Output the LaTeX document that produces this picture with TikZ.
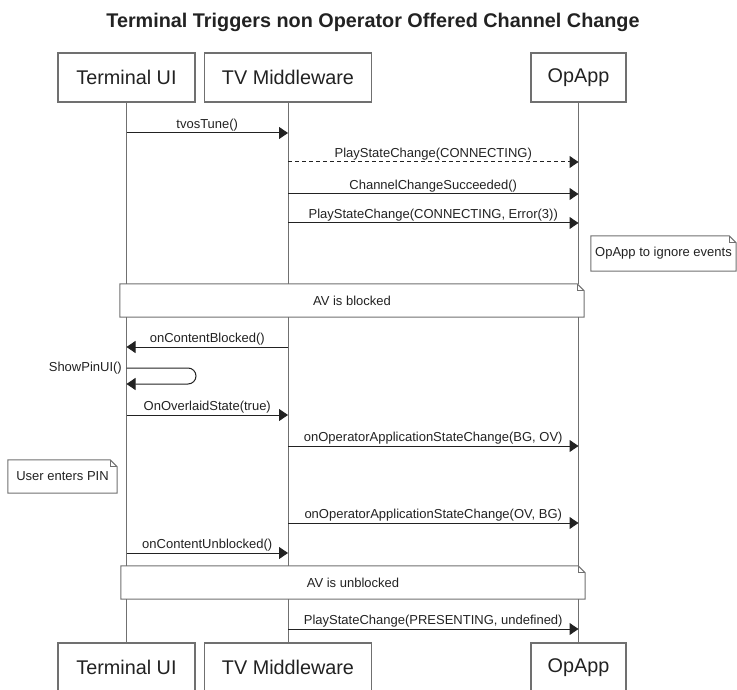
\documentclass[tikz,border=0pt]{standalone}
\usepackage{fontspec}
\setmainfont{Liberation Sans}
\usetikzlibrary{arrows.meta,calc}

\definecolor{edgegray}{HTML}{707070}
\definecolor{inkgray}{HTML}{222222}

\tikzset{
  actor/.style={draw=edgegray, line width=1.2pt, fill=white, minimum width=#1,
    minimum height=49pt, inner sep=0pt, text=inkgray,
    font=\fontsize{19.8}{22}\selectfont},
  lifeline/.style={draw=edgegray, line width=1pt},
  msg/.style={draw=inkgray, line width=1pt, -{Triangle[length=9pt,width=12pt]}},
  reply/.style={msg, dash pattern=on 4pt off 3pt},
  smalltext/.style={font=\fontsize{13}{15}\selectfont, text=inkgray, inner sep=1.5pt},
  lbl/.style={smalltext, above},
  notebox/.style={fill=white, minimum width=#1, inner sep=0pt,
    font=\fontsize{13}{15}\selectfont, text=inkgray},
}

% outline of a note with a folded top-right corner
\newcommand\foldnote[1]{%
  \draw[edgegray, line width=1pt]
    (#1.north west) -- ([xshift=-7pt]#1.north east) -- ([yshift=-7pt]#1.north east)
    -- (#1.south east) -- (#1.south west) -- cycle;
  \draw[edgegray, line width=0.8pt]
    ([xshift=-7pt]#1.north east) -- ([xshift=-7pt,yshift=-7pt]#1.north east)
    -- ([yshift=-7pt]#1.north east);
}

\begin{document}
\begin{tikzpicture}[x=1pt, y=-1pt]
\useasboundingbox (0,0) rectangle (737,690);

% title
\node[font=\fontsize{19.8}{22}\selectfont\bfseries, text=inkgray] (title) at (373,22)
  {Terminal Triggers non Operator Offered Channel Change};

% participants, top and bottom
\node[actor=137pt] (tuiT) at (126.5,77.5) {Terminal UI};
\node[actor=167pt] (tvmT) at (288,77.5) {TV Middleware};
\node[actor=95pt]  (opaT) at (578.5,77.5) {OpApp};
\node[actor=137pt] (tuiB) at (126.5,667.5) {Terminal UI};
\node[actor=167pt] (tvmB) at (288,667.5) {TV Middleware};
\node[actor=95pt]  (opaB) at (578.5,667.5) {OpApp};

% lifelines
\draw[lifeline] (tuiT.south) -- (tuiB.north);
\draw[lifeline] (tvmT.south) -- (tvmB.north);
\draw[lifeline] (opaT.south) -- (opaB.north);

% notes
\node[notebox=145pt, minimum height=35pt] (ignore) at (663.5,253.5) {OpApp to ignore events};
\foldnote{ignore}
\node[notebox=464pt, minimum height=33pt] (blocked) at (352,300.5) {AV is blocked};
\foldnote{blocked}
\node[notebox=109pt, minimum height=33pt] (pin) at (62.5,476.5) {User enters PIN};
\foldnote{pin}
\node[notebox=464pt, minimum height=33pt] (unblocked) at (353,582.5) {AV is unblocked};
\foldnote{unblocked}

% message rows
\coordinate (r1) at (0,133);
\coordinate (r2) at (0,162);
\coordinate (r3) at (0,194);
\coordinate (r4) at (0,223);
\coordinate (r5) at (0,347);
\coordinate (s1) at (0,368);
\coordinate (s2) at (0,384);
\coordinate (loopx) at (196,0);
\coordinate (r6) at (0,415);
\coordinate (r7) at (0,446);
\coordinate (r8) at (0,523);
\coordinate (r9) at (0,553);
\coordinate (r10) at (0,629);

% messages
\draw[msg] (tuiT |- r1) -- node[lbl] {tvosTune()} (tvmT |- r1);
\draw[reply] (tvmT |- r2) -- node[lbl] {PlayStateChange(CONNECTING)} (opaT |- r2);
\draw[msg] (tvmT |- r3) -- node[lbl] {ChannelChangeSucceeded()} (opaT |- r3);
\draw[msg] (tvmT |- r4) -- node[lbl] {PlayStateChange(CONNECTING, Error(3))} (opaT |- r4);
\draw[msg] (tvmT |- r5) -- node[lbl] {onContentBlocked()} (tuiT |- r5);
\draw[msg, rounded corners=8pt] (tuiT |- s1) -- (loopx |- s1) -- (loopx |- s2) -- (tuiT |- s2);
\node[smalltext, anchor=east] (pinlbl) at ([xshift=-3pt]tuiT |- s1) {ShowPinUI()};
\draw[msg] (tuiT |- r6) -- node[lbl] {OnOverlaidState(true)} (tvmT |- r6);
\draw[msg] (tvmT |- r7) -- node[lbl] {onOperatorApplicationStateChange(BG, OV)} (opaT |- r7);
\draw[msg] (tvmT |- r8) -- node[lbl] {onOperatorApplicationStateChange(OV, BG)} (opaT |- r8);
\draw[msg] (tuiT |- r9) -- node[lbl] {onContentUnblocked()} (tvmT |- r9);
\draw[msg] (tvmT |- r10) -- node[lbl] {PlayStateChange(PRESENTING, undefined)} (opaT |- r10);
\end{tikzpicture}
\end{document}
